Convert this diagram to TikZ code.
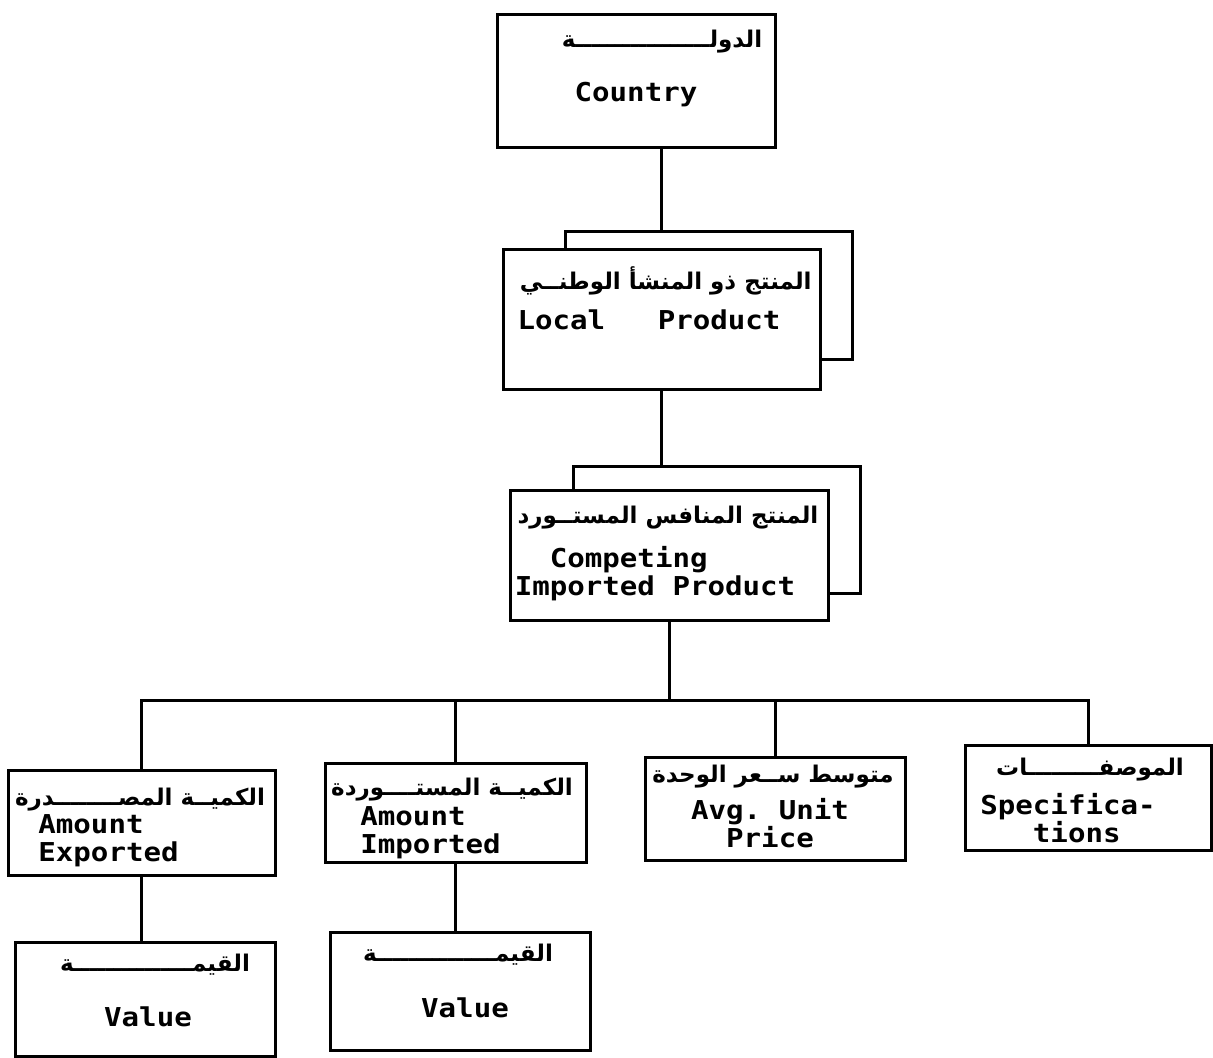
\documentclass[tikz,border=0pt]{standalone}
\usepackage{fontspec}
\setmonofont{DejaVu Sans Mono}[FakeStretch=1.12]
\newfontfamily\arabicfont[Script=Arabic]{DejaVu Sans}
\TeXXeTstate=1
\usetikzlibrary{positioning}

\newcommand{\artext}[1]{\beginR #1\endR}

\begin{document}
\begin{tikzpicture}[
    x=0.5pt,y=-0.5pt,
    box/.style={rectangle,draw,line width=1.5pt,fill=white,inner sep=0pt},
    artxt/.style={font=\fontsize{11.5}{13}\selectfont\arabicfont\bfseries,inner sep=1pt},
    entxt/.style={font=\fontsize{13}{14}\selectfont\ttfamily\bfseries,align=center,inner sep=1pt},
    link/.style={line width=1.5pt}
]
\useasboundingbox (0,0) rectangle (1213,1058);

% upper chain
\node[box,minimum width=139pt,minimum height=66.5pt] (country) at (636,81) {};
\node[box,minimum width=143.5pt,minimum height=64pt] (localback) at (708.5,296) {};
\node[box,minimum width=158.5pt,minimum height=70pt] (local) at (661.5,320) {};
\node[box,minimum width=143.5pt,minimum height=63.5pt] (compback) at (716.5,529.5) {};
\node[box,minimum width=159pt,minimum height=65pt] (comp) at (669,555) {};

\node[artxt] (countryar) at (662,42) {\artext{الدولـــــــــــــــــة}};
\node[entxt] (countryen) at (636,95) {Country};
\node[artxt,anchor=east] (localar) at (814,281) {\artext{المنتج ذو المنشأ الوطنــي}};
\node[entxt] (localen) at (649,320) {Local\ \ \ Product};
\node[artxt] (compar) at (668,518) {\artext{المنتج المنافس المستــورد}};
\node[entxt,align=left] (compen) at (655,574) {\phantom{xx}Competing\\Imported Product};

% lower row
\coordinate (bar) at (669,700);
\node[box,minimum width=133.5pt,minimum height=52.5pt] (exported) at (141.5,822.5) {};
\node[box,minimum width=130.5pt,minimum height=49.5pt] (imported) at (455.5,812.5) {};
\node[box,minimum width=130pt,minimum height=51.5pt] (avgprice) at (775,808.5) {};
\node[box,minimum width=123pt,minimum height=52.5pt] (specs) at (1088,797.5) {};
\node[box,minimum width=130pt,minimum height=57pt] (valueexp) at (145,999) {};
\node[box,minimum width=130pt,minimum height=59pt] (valueimp) at (460,991) {};

\node[artxt] (exportedar) at (140,800) {\artext{الكميــة المصــــــــدرة}};
\node[entxt,align=left,anchor=north west] (exporteden) at (36,812) {Amount\\Exported};
\node[artxt] (importedar) at (452,790) {\artext{الكميــة المستــــوردة}};
\node[entxt,align=left,anchor=north west] (importeden) at (358,804) {Amount\\Imported};
\node[artxt] (avgpricear) at (773,777) {\artext{متوسط ســعر الوحدة}};
\node[entxt] (avgpriceen) at (770,823) {Avg. Unit\\Price};
\node[artxt] (specsar) at (1090,770) {\artext{الموصفـــــــــات}};
\node[entxt] (specsen) at (1068,818) {Specifica-\\\ tions};
\node[artxt] (valueexpar) at (155,965) {\artext{القيمـــــــــــــــة}};
\node[entxt] (valueexpen) at (148,1017) {Value};
\node[artxt] (valueimpar) at (458,955) {\artext{القيمـــــــــــــــة}};
\node[entxt] (valueimpen) at (465,1008) {Value};

% connectors
\draw[link] (country.south -| local.north) -- (localback.north -| local.north);
\draw[link] (local.south) -- (local.south |- compback.north);
\draw[link] (comp.south) -- (bar);
\draw[link] (exported.north) -- (exported.north |- bar) -- (specs.north |- bar) -- (specs.north);
\draw[link] (imported.north) -- (imported.north |- bar);
\draw[link] (avgprice.north) -- (avgprice.north |- bar);
\draw[link] (exported.south) -- (exported.south |- valueexp.north);
\draw[link] (imported.south) -- (imported.south |- valueimp.north);
\end{tikzpicture}
\end{document}
